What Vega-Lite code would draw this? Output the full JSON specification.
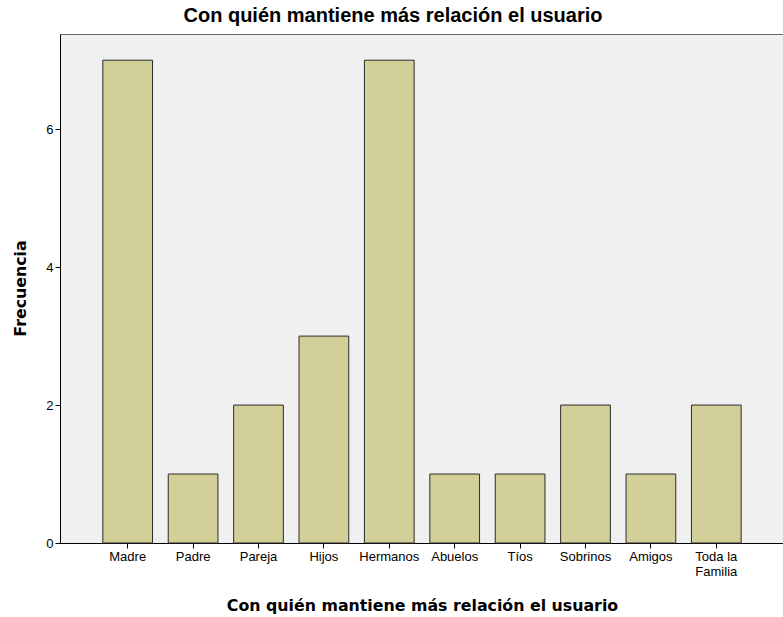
{
  "$schema": "https://vega.github.io/schema/vega-lite/v6.json",
  "autosize": {"type": "none"},
  "padding": {"left": 60, "top": 34, "right": 0, "bottom": 74},
  "width": 724,
  "height": 509,
  "background": "white",
  "title": {
    "text": "Con quién mantiene más relación el usuario",
    "font": "Liberation Sans",
    "fontSize": 20,
    "fontWeight": "bold",
    "color": "#000000",
    "anchor": "middle",
    "dx": -29,
    "offset": 8
  },
  "config": {
    "view": {"fill": "#f0f0f0", "stroke": "#666666", "strokeWidth": 1},
    "axis": {
      "labelFont": "Liberation Sans",
      "titleFont": "DejaVu Sans",
      "labelColor": "#000000",
      "titleColor": "#000000",
      "domainColor": "#000000",
      "tickColor": "#000000",
      "grid": false
    }
  },
  "data": {
    "values": [
      {"categoria": "Madre", "frecuencia": 7},
      {"categoria": "Padre", "frecuencia": 1},
      {"categoria": "Pareja", "frecuencia": 2},
      {"categoria": "Hijos", "frecuencia": 3},
      {"categoria": "Hermanos", "frecuencia": 7},
      {"categoria": "Abuelos", "frecuencia": 1},
      {"categoria": "Tíos", "frecuencia": 1},
      {"categoria": "Sobrinos", "frecuencia": 2},
      {"categoria": "Amigos", "frecuencia": 1},
      {"categoria": "Toda la Familia", "frecuencia": 2}
    ]
  },
  "mark": {"type": "bar", "fill": "#d3cf98", "stroke": "#2b2b2b", "strokeWidth": 1},
  "encoding": {
    "x": {
      "field": "categoria",
      "type": "nominal",
      "sort": null,
      "scale": {"paddingInner": 0.24, "paddingOuter": 0.655},
      "axis": {
        "title": "Con quién mantiene más relación el usuario",
        "titleFontSize": 15.8,
        "titleFontWeight": "bold",
        "titleX": 362,
        "titleY": 62,
        "titleBaseline": "middle",
        "titleAlign": "center",
        "labelAngle": 0,
        "labelFontSize": 13,
        "labelPadding": 2,
        "labelLineHeight": 15,
        "tickSize": 5,
        "labelExpr": "datum.label == 'Toda la Familia' ? ['Toda la', 'Familia'] : datum.label"
      }
    },
    "y": {
      "field": "frecuencia",
      "type": "quantitative",
      "scale": {"domain": [0, 7.38], "nice": false},
      "axis": {
        "title": "Frecuencia",
        "titleFontSize": 15.8,
        "titleFontWeight": "bold",
        "titleX": -40,
        "titleY": 254,
        "titleAlign": "center",
        "titleBaseline": "middle",
        "values": [0, 2, 4, 6],
        "labelFontSize": 13,
        "labelPadding": 2,
        "tickSize": 5
      }
    }
  }
}
